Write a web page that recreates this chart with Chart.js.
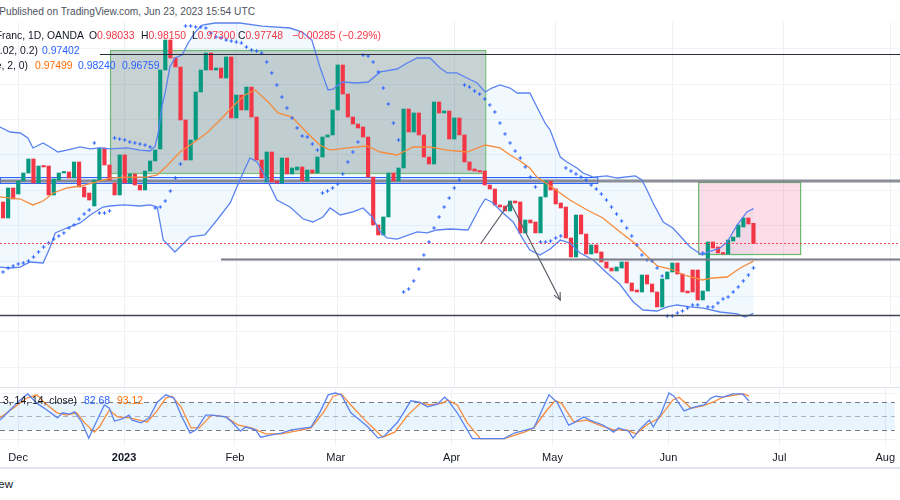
<!DOCTYPE html>
<html>
<head>
<meta charset="utf-8">
<script src="https://cdn.jsdelivr.net/npm/chart.js@4.4.0/dist/chart.umd.min.js"></script>
<style>
  body { margin: 0; background: #fff; width: 900px; height: 500px; overflow: hidden; position: relative; font-family: "Liberation Sans", Arial, sans-serif; }
  canvas { position: absolute; left: 0; }
  .t { position: absolute; white-space: nowrap; font-size: 10.4px; line-height: 14px; color: #131722; }
  .sep { position: absolute; left: 0; width: 900px; background: #e0e3eb; }
</style>
</head>
<body>
<canvas id="main" width="900" height="364" style="top:22px"></canvas>
<canvas id="osc" width="900" height="80" style="top:388px"></canvas>
<div class="sep" style="top:387px;height:1px"></div>
<div class="sep" style="top:467px;height:2px"></div>

<div class="t" style="right:645px;top:5px;color:#50535e;font-size:10.2px">Published on TradingView.com, Jun 23, 2023 15:54 UTC</div>

<div class="t" style="right:816px;top:29px">Euro / Swiss Franc, 1D, OANDA</div>
<div class="t" style="left:89px;top:29px">O<span style="color:#f23645">0.98033</span></div>
<div class="t" style="left:141px;top:29px">H<span style="color:#f23645">0.98150</span></div>
<div class="t" style="left:192px;top:29px">L<span style="color:#f23645">0.97300</span></div>
<div class="t" style="left:238px;top:29px">C<span style="color:#f23645">0.97748</span></div>
<div class="t" style="left:292px;top:29px;color:#f23645">−0.00285 (−0.29%)</div>

<div class="t" style="right:862px;top:44px">SAR (0.02, 0.02, 0.2)</div>
<div class="t" style="left:42px;top:44px;color:#2962ff">0.97402</div>

<div class="t" style="right:872px;top:59px">BB (20, close, 2, 0)</div>
<div class="t" style="left:35px;top:59px;color:#ff6d00">0.97499</div>
<div class="t" style="left:78px;top:59px;color:#2962ff">0.98240</div>
<div class="t" style="left:122px;top:59px;color:#2962ff">0.96759</div>

<div class="t" style="right:823px;top:394px">Stoch RSI (3, 3, 14, 14, close)</div>
<div class="t" style="left:84px;top:394px;color:#2962ff">82.68</div>
<div class="t" style="left:117px;top:394px;color:#ff6d00">93.12</div>

<div class="t" style="right:887px;top:477px;font-size:11.5px">TradingView</div>

<script>
// EUR/CHF daily bars, index 0 = first visible bar (late Nov 2022), last = Jun 23 2023
const candleOpen = [
  0.98335, 0.98109, 0.98533, 0.98448, 0.98632, 0.98745, 0.98943, 0.98604, 0.98844, 0.98844,
  0.98434, 0.98646, 0.98745, 0.98759, 0.98674, 0.98901, 0.98547, 0.98462, 0.98278, 0.98646,
  0.99099, 0.98858, 0.98604, 0.98434, 0.99000, 0.98604, 0.98731, 0.98575, 0.98505, 0.98773,
  0.98915, 0.99085, 1.00202, 1.00626, 1.00372, 1.00244, 0.99495, 0.98929, 0.99212, 0.99891,
  1.00202, 1.00442, 1.00202, 1.00230, 1.00089, 1.00386, 0.99523, 0.99848, 0.99636, 0.99961,
  0.99537, 0.98929, 0.98618, 0.99042, 0.98632, 0.98604, 0.98957, 0.98731, 0.98787, 0.98830,
  0.98632, 0.98787, 0.98745, 0.98971, 0.99254, 0.99283, 0.99636, 1.00273, 0.99862, 0.99537,
  0.99438, 0.99396, 0.99254, 0.98688, 0.98010, 0.97868, 0.98123, 0.98745, 0.98632, 0.98816,
  0.99650, 0.99325, 0.99594, 0.99283, 0.98971, 0.98872, 0.99749, 0.99594, 0.99622, 0.99226,
  0.99523, 0.99283, 0.98901, 0.98802, 0.98773, 0.98773, 0.98575, 0.98519, 0.98293, 0.98278,
  0.98208, 0.98349, 0.98335, 0.97897, 0.98080, 0.98052, 0.97897, 0.98406, 0.98632, 0.98519,
  0.98321, 0.98264, 0.97826, 0.97557, 0.98151, 0.97882, 0.97599, 0.97727, 0.97628, 0.97486,
  0.97401, 0.97359, 0.97401, 0.97486, 0.97189, 0.97090, 0.97062, 0.97302, 0.97175, 0.97062,
  0.96850, 0.97246, 0.97345, 0.97472, 0.97316, 0.97076, 0.97373, 0.97373, 0.96949, 0.97076,
  0.97769, 0.97698, 0.97614, 0.97599, 0.97783, 0.97840, 0.97981, 0.98109, 0.98033
];
const candleClose = [
  0.98109, 0.98533, 0.98377, 0.98632, 0.98745, 0.98943, 0.98604, 0.98844, 0.98830, 0.98434,
  0.98660, 0.98745, 0.98759, 0.98674, 0.98901, 0.98547, 0.98406, 0.98363, 0.98646, 0.99099,
  0.98858, 0.98646, 0.98434, 0.99000, 0.98604, 0.98731, 0.98575, 0.98505, 0.98773, 0.98915,
  0.99070, 1.00202, 1.00626, 1.00372, 1.00244, 0.99495, 0.98929, 0.99212, 0.99891, 1.00202,
  1.00442, 1.00202, 1.00230, 1.00089, 1.00386, 0.99523, 0.99848, 0.99636, 0.99961, 0.99537,
  0.98929, 0.98674, 0.99042, 0.98618, 0.98604, 0.98957, 0.98731, 0.98816, 0.98830, 0.98632,
  0.98787, 0.98745, 0.98971, 0.99254, 0.99283, 0.99636, 1.00273, 0.99862, 0.99537, 0.99438,
  0.99382, 0.99254, 0.98688, 0.98010, 0.97868, 0.98123, 0.98745, 0.98632, 0.98816, 0.99650,
  0.99325, 0.99594, 0.99283, 0.98971, 0.98872, 0.99749, 0.99594, 0.99622, 0.99226, 0.99523,
  0.99283, 0.98901, 0.98787, 0.98773, 0.98759, 0.98575, 0.98519, 0.98293, 0.98264, 0.98208,
  0.98349, 0.98321, 0.97897, 0.98080, 0.98038, 0.97897, 0.98406, 0.98632, 0.98505, 0.98307,
  0.98250, 0.97826, 0.97557, 0.98151, 0.97882, 0.97599, 0.97727, 0.97614, 0.97486, 0.97401,
  0.97359, 0.97415, 0.97486, 0.97189, 0.97076, 0.97062, 0.97302, 0.97175, 0.97062, 0.96850,
  0.97246, 0.97345, 0.97472, 0.97316, 0.97062, 0.97048, 0.97062, 0.96949, 0.97076, 0.97769,
  0.97684, 0.97614, 0.97599, 0.97797, 0.97840, 0.98010, 0.98109, 0.98024, 0.97748
];

// Bollinger bands [bar, price]
const bbUpper = [
  [-0.6,0.99396],[1.4,0.99325],[3.4,0.99311],[4.9,0.99240],[5.9,0.99099],[7.9,0.99170],[9.9,0.99085],
  [10.8,0.99042],[12.6,0.99070],[15.2,0.99113],[17.2,0.99085],[19.1,0.99099],[21.1,0.99085],[24.5,0.99099],
  [27,0.99070],[29,0.99056],[30,0.99127],[30.6,0.99311],[31.4,0.99707],[32,0.99891],[32.9,1.00244],
  [33.9,1.00372],[35.3,1.00414],[36.5,1.00584],[37.9,1.00739],[39.3,1.00838],[41.8,1.00867],[46.7,1.00867],
  [51.1,1.00824],[56.6,1.00796],[59,1.00739],[60.9,1.00626],[62.5,1.00244],[64.1,0.99919],[65.1,0.99933],
  [66.9,1.00032],[69.8,1.00018],[72,1.00032],[74.4,1.00174],[77.7,1.00216],[79.7,1.00301],[81.7,1.00372],
  [84.2,1.00372],[86.2,1.00230],[87.6,1.00160],[89.5,1.00160],[91.5,1.00089],[93.5,1.00018],[95.1,0.99891],
  [96.4,0.99947],[98,0.99990],[100,0.99947],[101.4,0.99877],[103.9,0.99877],[105.3,0.99679],[106.9,0.99452],
  [107.9,0.99353],[109.9,0.98971],[111.2,0.98901],[113.2,0.98816],[114.4,0.98745],[116.4,0.98688],[119.1,0.98703],
  [121.1,0.98674],[124.7,0.98703],[126,0.98646],[127,0.98505],[128.2,0.98321],[130.2,0.98052],[132.1,0.97967],
  [133.9,0.97826],[135.5,0.97698],[137.9,0.97585],[139.1,0.97628],[141.4,0.97684],[142.8,0.97769],[144.8,0.98010],
  [146.7,0.98194],[148,0.98240]
];
const bbBasis = [
  [-0.6,0.98406],[3.4,0.98377],[5.9,0.98293],[7.9,0.98349],[9.9,0.98462],[12.6,0.98533],[15.2,0.98561],
  [18.5,0.98618],[21.1,0.98674],[24.5,0.98688],[28.4,0.98688],[30.4,0.98717],[32.3,0.98844],[34.9,0.99042],
  [37.5,0.99170],[40.2,0.99311],[42.8,0.99495],[45.4,0.99693],[47.7,0.99848],[49.7,0.99919],[52.3,0.99749],
  [54.2,0.99594],[57,0.99537],[60,0.99311],[62.5,0.99141],[64.5,0.99070],[67.9,0.99099],[71.8,0.99127],
  [74.4,0.99042],[77.7,0.99000],[80.9,0.99113],[84.2,0.99113],[87.6,0.99070],[91.5,0.99042],[95.1,0.99141],
  [98,0.99099],[100,0.99000],[102,0.98915],[103.9,0.98816],[105.3,0.98688],[108.5,0.98533],[111.8,0.98363],
  [115.2,0.98222],[118.3,0.98109],[121.7,0.97911],[124.3,0.97769],[126.2,0.97628],[129,0.97430],[131.6,0.97387],
  [134.9,0.97288],[137.9,0.97232],[140,0.97260],[142.8,0.97274],[145.4,0.97401],[148,0.97499]
];
const bbLower = [
  [-0.6,0.97415],[1.4,0.97401],[3.4,0.97415],[5.3,0.97486],[7.9,0.97472],[9.3,0.97698],[10.3,0.97897],
  [12.6,0.97967],[15.2,0.98038],[17.2,0.98151],[19.7,0.98264],[21.1,0.98278],[23.7,0.98293],[27,0.98278],
  [29,0.98293],[30.4,0.98264],[31.6,0.97797],[33.9,0.97628],[36.9,0.97840],[39.8,0.97868],[42.2,0.98080],
  [44.8,0.98321],[46.7,0.98646],[48.7,0.98957],[50.1,0.98901],[52.1,0.98646],[54,0.98363],[56.6,0.98264],
  [59.2,0.98094],[61.1,0.98052],[63.1,0.98123],[64.5,0.98250],[66.5,0.98151],[69,0.98194],[71,0.98250],
  [72.8,0.98123],[74.4,0.97911],[75.7,0.97826],[77.7,0.97811],[81.7,0.97911],[83.6,0.97897],[85.6,0.97939],
  [88.2,0.97953],[91.7,0.97939],[94.1,0.98264],[95.1,0.98377],[96.4,0.98335],[98.6,0.98179],[100.6,0.98052],
  [102.4,0.97826],[103.9,0.97656],[105.9,0.97585],[107.9,0.97670],[109.9,0.97797],[111.8,0.97755],[113.8,0.97614],
  [116.4,0.97515],[119.1,0.97331],[121.6,0.97175],[124.3,0.96920],[126.2,0.96807],[129,0.96793],[131,0.96850],
  [132.9,0.96878],[135.5,0.96850],[138.1,0.96835],[141.4,0.96779],[144.8,0.96751],[146.3,0.96708],[148,0.96759]
];

// Parabolic SAR [bar, price]
const sar = [
  [0,0.97345],[1,0.97401],[2,0.97430],[3,0.97458],[4,0.97472],[5,0.97500],[6,0.97557],[7,0.97628],[8,0.97698],
  [9,0.97755],[10,0.97811],[11,0.97854],[12,0.97897],[13,0.97967],[14,0.98010],[15,0.98094],[16,0.98165],
  [17,0.98222],[18,0.99170],[19,0.98179],[20,0.98179],[21,0.98208],[22,0.99240],[23,0.99226],[24,0.99212],
  [25,0.99184],[26,0.99170],[27,0.99155],[28,0.99141],[29,0.99113],[30,0.98250],[31,0.98264],[32,0.98349],
  [33,0.98490],[34,0.98674],[35,0.98872],[36,1.00824],[37,1.00824],[38,1.00810],[39,1.00810],[40,1.00796],
  [41,1.00725],[42,1.00669],[43,1.00655],[44,1.00626],[45,1.00612],[46,1.00598],[47,1.00584],[48,1.00527],
  [49,1.00485],[50,1.00471],[51,1.00442],[52,1.00315],[53,1.00160],[54,0.99990],[55,0.99820],[56,0.99664],
  [57,0.99523],[58,0.99382],[59,0.99268],[60,0.99254],[61,0.99155],[62,0.99070],[63,0.98462],[64,0.98490],
  [65,0.98533],[66,0.98590],[67,0.98731],[68,0.98901],[69,0.99042],[70,0.99184],[71,1.00414],[72,1.00400],
  [73,1.00315],[74,1.00174],[75,0.99947],[76,0.99721],[77,0.99452],[78,0.99212],[79,0.97062],[80,0.97104],
  [81,0.97218],[82,0.97387],[83,0.97585],[84,0.97769],[85,0.97967],[86,0.98123],[87,0.98264],[88,0.98391],
  [89,0.98533],[90,0.98646],[91,0.99990],[92,0.99961],[93,0.99905],[94,0.99862],[95,0.99792],[96,0.99707],
  [97,0.99608],[98,0.99452],[99,0.99297],[100,0.99170],[101,0.99056],[102,0.98957],[103,0.98830],[104,0.98688],
  [105,0.98547],[106,0.97769],[107,0.97769],[108,0.97783],[109,0.97826],[110,0.97854],[111,0.98816],[112,0.98773],
  [113,0.98731],[114,0.98688],[115,0.98646],[116,0.98575],[117,0.98519],[118,0.98448],[119,0.98363],[120,0.98264],
  [121,0.98165],[122,0.98066],[123,0.97967],[124,0.97854],[125,0.97727],[126,0.97585],[127,0.97515],[128,0.97500],
  [129,0.97401],[130,0.97288],[131,0.96723],[132,0.96723],[133,0.96765],[134,0.96793],[135,0.96835],[136,0.96878],
  [137,0.96878],[138,0.97614],[139,0.96850],[140,0.96850],[141,0.96906],[142,0.96963],[143,0.96991],[144,0.97062],
  [145,0.97133],[146,0.97218],[147,0.97302],[148,0.97402]
];

// Stoch RSI %K / %D [bar, value]
const stochK = [
  [-0.6,41],[1.4,63],[3.4,85],[4.9,98],[6.7,78],[8.7,63],[10.8,46],[11.8,57],[13.2,54],[14.2,59],[15.6,37],
  [17,2],[18.5,37],[20.1,74],[21.1,67],[22.1,39],[23.5,43],[25,52],[25.6,41],[27.4,35],[29,46],[30.6,80],
  [32.3,96],[33.9,89],[35.5,48],[37.1,13],[38.3,20],[40.2,52],[41.4,52],[44.2,48],[45.4,37],[47.1,17],
  [48.1,26],[50.1,20],[51.1,4],[53.3,9],[55.2,13],[57.2,20],[61.1,26],[62.9,59],[64.5,96],[65.9,100],
  [67.1,96],[69,57],[71,39],[72.4,26],[74.4,2],[75.7,7],[78.3,37],[80.9,83],[82.6,80],[84.2,70],[86.2,76],
  [87.6,91],[88.2,85],[90.1,57],[93.1,1],[99.4,1],[101.4,13],[105.3,24],[108.3,96],[109.9,80],[112.2,30],
  [113.2,35],[115.2,48],[116.4,41],[119.1,30],[121.1,15],[122.1,24],[124.1,17],[125,2],[126.2,20],[128.2,41],
  [129,26],[130.6,57],[132.1,100],[133.1,93],[135.1,61],[136.5,67],[138.1,72],[139.1,74],[140.4,89],[141.4,93],
  [142.8,91],[144.8,98],[146.7,98],[148,82.68]
];
const stochD = [
  [-0.6,46],[2,67],[4.7,89],[6.7,96],[8.3,78],[10.7,57],[12.6,52],[14.6,57],[16.2,35],[18.1,15],[19.1,26],
  [21.1,63],[22.7,48],[25,46],[27,41],[28.6,37],[30.4,59],[32.3,89],[33.5,93],[35.3,70],[37.3,24],[38.9,24],
  [41.4,52],[44.2,48],[46.7,30],[49.3,24],[52.1,11],[55.2,11],[58,17],[61.1,24],[63.5,57],[65.5,93],[67.1,98],
  [69,74],[71.8,41],[73.8,20],[75.3,4],[77.7,15],[80.3,52],[82.8,78],[84.8,74],[87.2,78],[88.2,85],[90.1,74],
  [92.1,35],[94.7,1],[99.4,1],[103.4,15],[105.3,24],[107.9,63],[109.5,83],[110.8,78],[113.2,37],[115.8,41],
  [118.3,30],[121.1,20],[123.7,20],[125.6,11],[127.6,30],[130.2,46],[132.9,85],[134.1,91],[136.5,67],[138.8,72],
  [140.8,80],[142.8,91],[145.4,96],[146.9,98],[148,93.12]
];

const monthIdx = [3, 24, 46, 66, 89, 109, 132, 154, 175];
const monthLabels = ['Dec', '2023', 'Feb', 'Mar', 'Apr', 'May', 'Jun', 'Jul', 'Aug'];
const priceGrid = [0.960, 0.965, 0.970, 0.975, 0.980, 0.985, 0.990, 0.995, 1.000, 1.005];
const stochLevels = [80, 50, 20];
const lastClose = 0.97748;

// drawings (bar index / price)
const rangeZone = [21.1, 95.1, 1.00485, 0.98745];
const pinkZone = [137.1, 157.2, 0.98618, 0.97599];
const supportBand = [-0.6, 117.2, 0.98688, 0.98604];
const supportLine = 0.98632;
const topLine = [19.1, 1.00428];
const midLine = [43, 0.97529];
const lowLine = 0.96737;
const arrowPath = [[94.3, 0.97755], [100, 0.98335], [109.9, 0.96949]];

const xMin = -0.6, xMax = 176.9;
const GREEN = '#089981', RED = '#f23645';
const BAND = '#5b83f0', BASIS = '#f68b3c';

const pts = arr => arr.map(([x, y]) => ({ x, y }));

const drawings = {
  id: 'drawings',
  beforeDatasetsDraw(chart) {
    const { ctx, scales: { x, y }, chartArea: a } = chart;
    const px = v => x.getPixelForValue(v), py = v => y.getPixelForValue(v);
    ctx.save();
    // band fill
    ctx.beginPath();
    bbUpper.forEach(([k, p], i) => i ? ctx.lineTo(px(k), py(p)) : ctx.moveTo(px(k), py(p)));
    for (let i = bbLower.length - 1; i >= 0; i--) ctx.lineTo(px(bbLower[i][0]), py(bbLower[i][1]));
    ctx.closePath();
    ctx.fillStyle = 'rgba(33,150,243,0.06)';
    ctx.fill();

    const box = (z, fill, stroke, lw) => {
      const x1 = px(z[0]), x2 = px(z[1]), y1 = py(z[2]), y2 = py(z[3]);
      ctx.fillStyle = fill;
      ctx.fillRect(x1, y1, x2 - x1, y2 - y1);
      ctx.strokeStyle = stroke;
      ctx.lineWidth = lw;
      ctx.strokeRect(x1 + 0.5, y1 + 0.5, x2 - x1, y2 - y1);
    };
    box(rangeZone, 'rgba(70,100,105,0.29)', 'rgba(76,175,80,0.75)', 1.2);
    box(pinkZone, 'rgba(233,30,99,0.15)', 'rgba(76,175,80,0.85)', 1.2);
    box(supportBand, 'rgba(41,98,255,0.10)', '#2962ff', 1);

    ctx.strokeStyle = 'rgba(120,123,134,0.85)';
    ctx.lineWidth = 3;
    ctx.beginPath();
    ctx.moveTo(a.left, py(supportLine));
    ctx.lineTo(a.right, py(supportLine));
    ctx.stroke();
    ctx.restore();
  },
  afterDatasetsDraw(chart) {
    const { ctx, scales: { x, y }, chartArea: a } = chart;
    const px = v => x.getPixelForValue(v), py = v => y.getPixelForValue(v);
    ctx.save();
    const hline = (x1, p, color, w, dash) => {
      ctx.strokeStyle = color;
      ctx.lineWidth = w;
      ctx.setLineDash(dash || []);
      ctx.beginPath();
      const yy = Math.round(py(p)) + 0.5;
      ctx.moveTo(x1, yy);
      ctx.lineTo(a.right, yy);
      ctx.stroke();
    };
    hline(px(topLine[0]), topLine[1], '#2a2e39', 1);
    hline(px(midLine[0]), midLine[1], '#787b86', 2);
    hline(a.left, lowLine, '#434651', 1.5);
    hline(a.left, lastClose, 'rgba(242,54,69,0.9)', 1, [2, 2]);
    ctx.setLineDash([]);

    // arrow
    ctx.strokeStyle = '#5d606b';
    ctx.lineWidth = 1.2;
    ctx.beginPath();
    arrowPath.forEach(([k, p], i) => i ? ctx.lineTo(px(k), py(p)) : ctx.moveTo(px(k), py(p)));
    ctx.stroke();
    const [k1, p1] = arrowPath[1], [k2, p2] = arrowPath[2];
    const ex = px(k2), ey = py(p2);
    const ang = Math.atan2(ey - py(p1), ex - px(k1));
    ctx.beginPath();
    ctx.moveTo(ex - 8 * Math.cos(ang - 0.45), ey - 8 * Math.sin(ang - 0.45));
    ctx.lineTo(ex, ey);
    ctx.lineTo(ex - 8 * Math.cos(ang + 0.45), ey - 8 * Math.sin(ang + 0.45));
    ctx.stroke();
    ctx.restore();
  }
};

const barIdx = candleOpen.map((_, k) => k);

new Chart(document.getElementById('main'), {
  type: 'line',
  data: {
    datasets: [
      {
        type: 'bar',
        data: barIdx.map(k => ({ x: k, y: [candleOpen[k], candleClose[k]] })),
        backgroundColor: barIdx.map(k => candleClose[k] >= candleOpen[k] ? GREEN : RED),
        barThickness: 3.5,
        minBarLength: 1.5,
        borderWidth: 0,
        order: 4
      },
      { data: pts(bbUpper), borderColor: BAND, borderWidth: 1.3, pointRadius: 0, tension: 0, order: 3 },
      { data: pts(bbLower), borderColor: BAND, borderWidth: 1.3, pointRadius: 0, tension: 0, order: 3 },
      { data: pts(bbBasis), borderColor: BASIS, borderWidth: 1.3, pointRadius: 0, tension: 0, order: 2 },
      {
        data: pts(sar), showLine: false, pointStyle: 'cross', pointRadius: 1.8,
        borderColor: '#2962ff', pointBorderWidth: 1, order: 1
      }
    ]
  },
  options: {
    responsive: false,
    animation: false,
    devicePixelRatio: 1,
    layout: { padding: 0, autoPadding: false },
    plugins: { legend: { display: false }, tooltip: { enabled: false } },
    scales: {
      x: {
        type: 'linear', min: xMin, max: xMax, offset: false,
        afterBuildTicks: s => { s.ticks = monthIdx.map(v => ({ value: v })); },
        afterFit: s => { s.height = 0; },
        ticks: { display: false },
        border: { display: false },
        grid: { color: '#eef0f5', drawTicks: false, offset: false }
      },
      y: {
        type: 'linear', min: 0.95732, max: 1.00881,
        afterBuildTicks: s => { s.ticks = priceGrid.map(v => ({ value: v })); },
        afterFit: s => { s.width = 0; },
        ticks: { display: false },
        border: { display: false },
        grid: { color: '#f2f3f7', drawTicks: false }
      }
    }
  },
  plugins: [drawings]
});

const levels = {
  id: 'levels',
  beforeDatasetsDraw(chart) {
    const { ctx, scales: { y }, chartArea: a } = chart;
    ctx.save();
    const yTop = y.getPixelForValue(stochLevels[0]), yBot = y.getPixelForValue(stochLevels[2]);
    ctx.fillStyle = 'rgba(33,150,243,0.1)';
    ctx.fillRect(a.left, yTop, a.right - a.left, yBot - yTop);
    stochLevels.forEach((v, i) => {
      ctx.strokeStyle = i === 1 ? 'rgba(120,123,134,0.55)' : '#787b86';
      ctx.lineWidth = 1;
      ctx.setLineDash([5, 4]);
      const yy = Math.round(y.getPixelForValue(v)) + 0.5;
      ctx.beginPath();
      ctx.moveTo(a.left, yy);
      ctx.lineTo(a.right, yy);
      ctx.stroke();
    });
    ctx.restore();
  }
};

new Chart(document.getElementById('osc'), {
  type: 'line',
  data: {
    datasets: [
      { data: pts(stochK), borderColor: BAND, borderWidth: 1.3, pointRadius: 0, tension: 0 },
      { data: pts(stochD), borderColor: BASIS, borderWidth: 1.3, pointRadius: 0, tension: 0 }
    ]
  },
  options: {
    responsive: false,
    animation: false,
    devicePixelRatio: 1,
    layout: { padding: 0, autoPadding: false },
    plugins: { legend: { display: false }, tooltip: { enabled: false } },
    scales: {
      x: {
        type: 'linear', min: xMin, max: xMax, offset: false,
        afterBuildTicks: s => { s.ticks = monthIdx.map(v => ({ value: v })); },
        afterFit: s => { s.height = 22; },
        ticks: {
          autoSkip: false, maxRotation: 0, padding: 5, color: '#131722',
          callback: (v, i) => monthLabels[i],
          font: c => ({ family: '"Liberation Sans", Arial, sans-serif', size: 11, weight: monthLabels[c.index] === '2023' ? 'bold' : 'normal' })
        },
        border: { display: false },
        grid: { color: '#eef0f5', drawTicks: false, offset: false }
      },
      y: {
        type: 'linear', min: -15.2, max: 110.9,
        afterBuildTicks: s => { s.ticks = [{ value: 0 }, { value: 100 }]; },
        afterFit: s => { s.width = 0; },
        ticks: { display: false },
        border: { display: false },
        grid: { color: '#eef0f5', drawTicks: false }
      }
    }
  },
  plugins: [levels]
});
</script>
</body>
</html>
